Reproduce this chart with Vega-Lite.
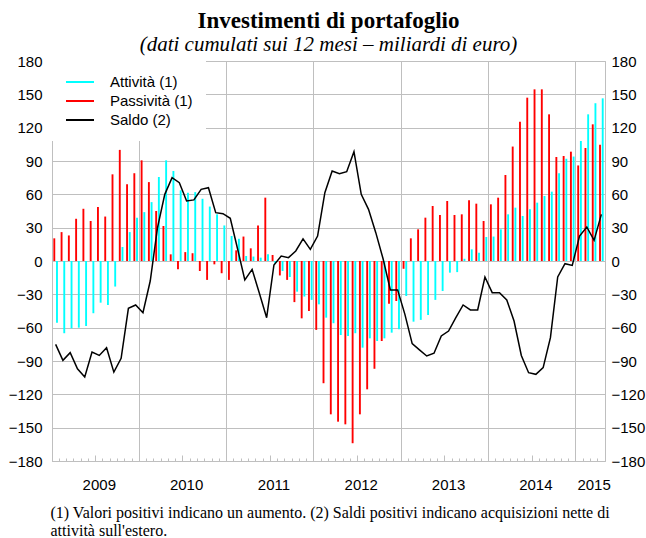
{
  "$schema": "https://vega.github.io/schema/vega-lite/v6.json",
  "width": 553,
  "height": 400,
  "autosize": "none",
  "padding": {"left": 52, "top": 61, "right": 41, "bottom": 77},
  "background": "white",
  "config": {
    "view": {"stroke": "#bfbfbf", "strokeWidth": 1},
    "font": "Liberation Sans"
  },
  "title": {
    "text": "Investimenti di portafoglio",
    "subtitle": "(dati cumulati sui 12 mesi – miliardi di euro)",
    "font": "Liberation Serif",
    "fontSize": 23,
    "fontWeight": "bold",
    "color": "black",
    "subtitleFont": "Liberation Serif",
    "subtitleFontSize": 21,
    "subtitleFontStyle": "italic",
    "subtitleColor": "black",
    "subtitlePadding": 1,
    "anchor": "middle",
    "offset": -1
  },
  "data": {
    "values": [
      {"month": "2009-01", "Attività (1)": -55.5, "Passività (1)": 20.4, "Saldo (2)": -75},
      {"month": "2009-02", "Attività (1)": -65, "Passività (1)": 26, "Saldo (2)": -89.4},
      {"month": "2009-03", "Attività (1)": -60.6, "Passività (1)": 23, "Saldo (2)": -82.5},
      {"month": "2009-04", "Attività (1)": -60, "Passività (1)": 38, "Saldo (2)": -97},
      {"month": "2009-05", "Attività (1)": -58.5, "Passività (1)": 47, "Saldo (2)": -104.4},
      {"month": "2009-06", "Attività (1)": -47, "Passività (1)": 36, "Saldo (2)": -82},
      {"month": "2009-07", "Attività (1)": -37.5, "Passività (1)": 48.6, "Saldo (2)": -85},
      {"month": "2009-08", "Attività (1)": -39.6, "Passività (1)": 40, "Saldo (2)": -78},
      {"month": "2009-09", "Attività (1)": -23, "Passività (1)": 78, "Saldo (2)": -100},
      {"month": "2009-10", "Attività (1)": 12.6, "Passività (1)": 100, "Saldo (2)": -87.6},
      {"month": "2009-11", "Attività (1)": 26, "Passività (1)": 69, "Saldo (2)": -42.6},
      {"month": "2009-12", "Attività (1)": 39, "Passività (1)": 79, "Saldo (2)": -39.6},
      {"month": "2010-01", "Attività (1)": 44, "Passività (1)": 90.6, "Saldo (2)": -46.5},
      {"month": "2010-02", "Attività (1)": 53, "Passività (1)": 71, "Saldo (2)": -18},
      {"month": "2010-03", "Attività (1)": 75.6, "Passività (1)": 45, "Saldo (2)": 30},
      {"month": "2010-04", "Attività (1)": 90.6, "Passività (1)": 31.5, "Saldo (2)": 60},
      {"month": "2010-05", "Attività (1)": 81, "Passività (1)": 6, "Saldo (2)": 75},
      {"month": "2010-06", "Attività (1)": 63.6, "Passività (1)": -7.5, "Saldo (2)": 70.5},
      {"month": "2010-07", "Attività (1)": 61.5, "Passività (1)": 8, "Saldo (2)": 54},
      {"month": "2010-08", "Attività (1)": 62, "Passività (1)": 7, "Saldo (2)": 55},
      {"month": "2010-09", "Attività (1)": 56, "Passività (1)": -9, "Saldo (2)": 64.5},
      {"month": "2010-10", "Attività (1)": 49, "Passività (1)": -17, "Saldo (2)": 66},
      {"month": "2010-11", "Attività (1)": 42, "Passività (1)": -3, "Saldo (2)": 43.5},
      {"month": "2010-12", "Attività (1)": 32, "Passività (1)": -11, "Saldo (2)": 42.6},
      {"month": "2011-01", "Attività (1)": 22.5, "Passività (1)": -17, "Saldo (2)": 38.4},
      {"month": "2011-02", "Attività (1)": 20, "Passività (1)": 9.6, "Saldo (2)": 11},
      {"month": "2011-03", "Attività (1)": 4.5, "Passività (1)": 22, "Saldo (2)": -17},
      {"month": "2011-04", "Attività (1)": 4, "Passività (1)": 11.4, "Saldo (2)": -7.5},
      {"month": "2011-05", "Attività (1)": 3, "Passività (1)": 32, "Saldo (2)": -29},
      {"month": "2011-06", "Attività (1)": 6, "Passività (1)": 57, "Saldo (2)": -51},
      {"month": "2011-07", "Attività (1)": -2, "Passività (1)": 5.4, "Saldo (2)": -3.6},
      {"month": "2011-08", "Attività (1)": -9, "Passività (1)": -13, "Saldo (2)": 4.5},
      {"month": "2011-09", "Attività (1)": -14.4, "Passività (1)": -17, "Saldo (2)": 3},
      {"month": "2011-10", "Attività (1)": -27.6, "Passività (1)": -37, "Saldo (2)": 9},
      {"month": "2011-11", "Attività (1)": -32, "Passività (1)": -51.6, "Saldo (2)": 20},
      {"month": "2011-12", "Attività (1)": -35, "Passività (1)": -45, "Saldo (2)": 10.5},
      {"month": "2012-01", "Attività (1)": -39, "Passività (1)": -62, "Saldo (2)": 22.5},
      {"month": "2012-02", "Attività (1)": -51, "Passività (1)": -110, "Saldo (2)": 61.5},
      {"month": "2012-03", "Attività (1)": -56, "Passività (1)": -138, "Saldo (2)": 81},
      {"month": "2012-04", "Attività (1)": -66.6, "Passività (1)": -144.6, "Saldo (2)": 78.6},
      {"month": "2012-05", "Attività (1)": -67.5, "Passività (1)": -147, "Saldo (2)": 80.4},
      {"month": "2012-06", "Attività (1)": -65, "Passività (1)": -164, "Saldo (2)": 98.4},
      {"month": "2012-07", "Attività (1)": -78, "Passività (1)": -138, "Saldo (2)": 60},
      {"month": "2012-08", "Attività (1)": -69.6, "Passività (1)": -115.5, "Saldo (2)": 46.5},
      {"month": "2012-09", "Attività (1)": -72, "Passività (1)": -97, "Saldo (2)": 25.5},
      {"month": "2012-10", "Attività (1)": -69.6, "Passività (1)": -72, "Saldo (2)": 2},
      {"month": "2012-11", "Attività (1)": -64.5, "Passività (1)": -38.4, "Saldo (2)": -26},
      {"month": "2012-12", "Attività (1)": -61.5, "Passività (1)": -36, "Saldo (2)": -26},
      {"month": "2013-01", "Attività (1)": -31.5, "Passività (1)": -7, "Saldo (2)": -48},
      {"month": "2013-02", "Attività (1)": -54.6, "Passività (1)": 20.4, "Saldo (2)": -74.4},
      {"month": "2013-03", "Attività (1)": -53, "Passività (1)": 28.5, "Saldo (2)": -80},
      {"month": "2013-04", "Attività (1)": -48.6, "Passività (1)": 39, "Saldo (2)": -85.5},
      {"month": "2013-05", "Attività (1)": -35, "Passività (1)": 49.5, "Saldo (2)": -83},
      {"month": "2013-06", "Attività (1)": -27, "Passività (1)": 41.4, "Saldo (2)": -67.5},
      {"month": "2013-07", "Attività (1)": -10.5, "Passività (1)": 54, "Saldo (2)": -63},
      {"month": "2013-08", "Attività (1)": -10, "Passività (1)": 41.4, "Saldo (2)": -51},
      {"month": "2013-09", "Attività (1)": 2, "Passività (1)": 42, "Saldo (2)": -39.6},
      {"month": "2013-10", "Attività (1)": 10.5, "Passività (1)": 54.6, "Saldo (2)": -44},
      {"month": "2013-11", "Attività (1)": 7.5, "Passività (1)": 51.6, "Saldo (2)": -44},
      {"month": "2013-12", "Attività (1)": 21.6, "Passività (1)": 36, "Saldo (2)": -14.4},
      {"month": "2014-01", "Attività (1)": 22, "Passività (1)": 51, "Saldo (2)": -28.5},
      {"month": "2014-02", "Attività (1)": 28.5, "Passività (1)": 57, "Saldo (2)": -28.5},
      {"month": "2014-03", "Attività (1)": 42, "Passività (1)": 77.4, "Saldo (2)": -35},
      {"month": "2014-04", "Attività (1)": 48, "Passività (1)": 103, "Saldo (2)": -54},
      {"month": "2014-05", "Attività (1)": 40.5, "Passività (1)": 125.4, "Saldo (2)": -85},
      {"month": "2014-06", "Attività (1)": 46.5, "Passività (1)": 147, "Saldo (2)": -100.5},
      {"month": "2014-07", "Attività (1)": 52.5, "Passività (1)": 154.5, "Saldo (2)": -102},
      {"month": "2014-08", "Attività (1)": 58.5, "Passività (1)": 154.5, "Saldo (2)": -96},
      {"month": "2014-09", "Attività (1)": 62.4, "Passività (1)": 132, "Saldo (2)": -69},
      {"month": "2014-10", "Attività (1)": 79, "Passività (1)": 93.6, "Saldo (2)": -14.4},
      {"month": "2014-11", "Attività (1)": 92, "Passività (1)": 94.5, "Saldo (2)": -2.4},
      {"month": "2014-12", "Attività (1)": 94, "Passività (1)": 98.4, "Saldo (2)": -4},
      {"month": "2015-01", "Attività (1)": 108, "Passività (1)": 86, "Saldo (2)": 22.5},
      {"month": "2015-02", "Attività (1)": 132, "Passività (1)": 101.7, "Saldo (2)": 30.6},
      {"month": "2015-03", "Attività (1)": 142, "Passività (1)": 123, "Saldo (2)": 18.6},
      {"month": "2015-04", "Attività (1)": 146.4, "Passività (1)": 104.7, "Saldo (2)": 42}
    ]
  },
  "transform": [
    {"fold": ["Attività (1)", "Passività (1)", "Saldo (2)"], "as": ["serie", "valore"]}
  ],
  "encoding": {
    "x": {
      "field": "month",
      "type": "ordinal",
      "scale": {"paddingInner": 0, "paddingOuter": 0},
      "axis": {
        "bandPosition": 0,
        "labelExpr": "slice(datum.value, 5) == '07' ? slice(datum.value, 0, 4) : (datum.value == '2015-03' ? '2015' : '')",
        "labelAngle": 0,
        "labelAlign": "center",
        "labelBaseline": "top",
        "labelOverlap": false,
        "labelFont": "Liberation Sans",
        "labelFontSize": 15,
        "labelColor": "black",
        "labelPadding": {"condition": {"test": "datum.value == '2015-03'", "value": 19}, "value": 22},
        "domain": false,
        "ticks": true,
        "tickColor": "#bfbfbf",
        "tickSize": {"condition": {"test": "slice(datum.value, 5) == '07'", "value": -6}, "value": -3},
        "grid": true,
        "gridColor": "#bfbfbf",
        "gridOpacity": {"condition": {"test": "slice(datum.value, 5) == '01'", "value": 1}, "value": 0},
        "title": [
          "(1) Valori positivi indicano un aumento. (2) Saldi positivi indicano acquisizioni nette di",
          "attività sull'estero."
        ],
        "titleFont": "Liberation Serif",
        "titleFontSize": 16,
        "titleFontWeight": "normal",
        "titleColor": "black",
        "titleAnchor": "start",
        "titleAlign": "left",
        "titleBaseline": "alphabetic",
        "titleLineHeight": 18,
        "titleX": -2,
        "titleY": 56
      }
    },
    "y": {
      "field": "valore",
      "type": "quantitative",
      "scale": {"domain": [-180, 180], "nice": false, "zero": false}
    }
  },
  "layer": [
    {
      "transform": [{"filter": "datum.serie != 'Saldo (2)'"}],
      "mark": {"type": "bar"},
      "encoding": {
        "xOffset": {
          "field": "serie",
          "type": "nominal",
          "scale": {"domain": ["Passività (1)", "Attività (1)"], "paddingInner": 0.3, "paddingOuter": 0.5}
        },
        "y": {
          "field": "valore",
          "type": "quantitative",
          "axis": {
            "orient": "left",
            "values": [-180, -150, -120, -90, -60, -30, 0, 30, 60, 90, 120, 150, 180],
            "grid": true,
            "gridColor": "#bfbfbf",
            "domain": false,
            "tickColor": "#bfbfbf",
            "tickSize": -5,
            "labelPadding": 15,
            "labelFont": "Liberation Sans",
            "labelFontSize": 15,
            "labelColor": "black",
            "title": null
          }
        },
        "color": {
          "field": "serie",
          "type": "nominal",
          "scale": {"domain": ["Attività (1)", "Passività (1)", "Saldo (2)"], "range": ["#00ffff", "#ff0000", "#000000"]},
          "legend": {
            "orient": "none",
            "legendX": 0,
            "legendY": 0,
            "title": null,
            "symbolType": "stroke",
            "symbolSize": 784,
            "symbolStrokeWidth": 2,
            "clipHeight": 16,
            "rowPadding": 3,
            "labelOffset": 15,
            "labelFont": "Liberation Sans",
            "labelFontSize": 15,
            "labelColor": "black",
            "fillColor": "white",
            "padding": 13
          }
        }
      }
    },
    {
      "transform": [{"filter": "datum.serie == 'Saldo (2)'"}],
      "mark": {"type": "line", "strokeWidth": 1.5},
      "encoding": {
        "y": {
          "field": "valore",
          "type": "quantitative",
          "axis": {
            "orient": "right",
            "values": [-180, -150, -120, -90, -60, -30, 0, 30, 60, 90, 120, 150, 180],
            "grid": false,
            "domain": false,
            "tickColor": "#bfbfbf",
            "tickSize": -5,
            "labelPadding": 11,
            "labelFont": "Liberation Sans",
            "labelFontSize": 15,
            "labelColor": "black",
            "title": null
          }
        },
        "color": {
          "field": "serie",
          "type": "nominal",
          "legend": {
            "orient": "none",
            "legendX": 0,
            "legendY": 0,
            "title": null,
            "symbolType": "stroke",
            "symbolSize": 784,
            "symbolStrokeWidth": 2,
            "clipHeight": 16,
            "rowPadding": 3,
            "labelOffset": 15,
            "labelFont": "Liberation Sans",
            "labelFontSize": 15,
            "labelColor": "black",
            "fillColor": "white",
            "padding": 13
          }
        }
      }
    }
  ],
  "resolve": {"axis": {"y": "independent"}}
}
